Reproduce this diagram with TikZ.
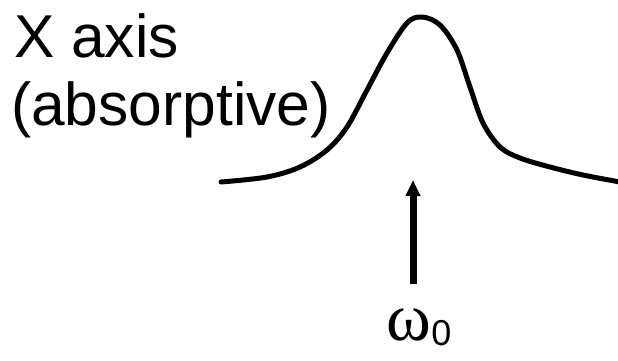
\documentclass[tikz,border=0pt]{standalone}
\usepackage{fontspec}
\setmainfont{Liberation Sans}
\newfontfamily\greekfont{Liberation Serif}
\usetikzlibrary{arrows.meta}
\tikzset{
    % Text styles
    axislabel/.style={
        inner sep=0pt,
        anchor=base west,
        font=\fontsize{60.5}{68}\selectfont
    },
    freqlabel/.style={
        inner sep=0pt,
        anchor=base,
        font=\fontsize{68}{72}\selectfont
    },
    % Line styles
    lineshape/.style={
        line width=5pt,
        line join=round,
        line cap=round
    },
    peakarrow/.style={
        -{Triangle[width=14pt,length=16pt]},
        line width=7pt
    }
}
\begin{document}
\begin{tikzpicture}[x=1pt, y=-1pt]
    \useasboundingbox (0,0) rectangle (618,360);

    \node[axislabel] (title) at (14,57) {X axis};
    \node[axislabel] (kind) at (11,125) {(absorptive)};

    % absorptive line shape
    \draw[lineshape] plot[smooth, tension=0.55] coordinates {
        (221,182) (267,177) (300,167) (327,150) (347,127) (367,90)
        (387,53) (407,23) (422,17) (440,25) (457,50) (470,87)
        (483,123) (500,147) (520,158) (550,167) (583,175) (620,182)};

    \coordinate (tail) at (413,284);
    \coordinate (tip) at (413,180);
    \draw[peakarrow] (tail) -- (tip);

    \node[freqlabel] (omega) at (419,340) {{\greekfont ω}\raisebox{-5pt}{\fontsize{36}{40}\selectfont 0}};
\end{tikzpicture}
\end{document}
